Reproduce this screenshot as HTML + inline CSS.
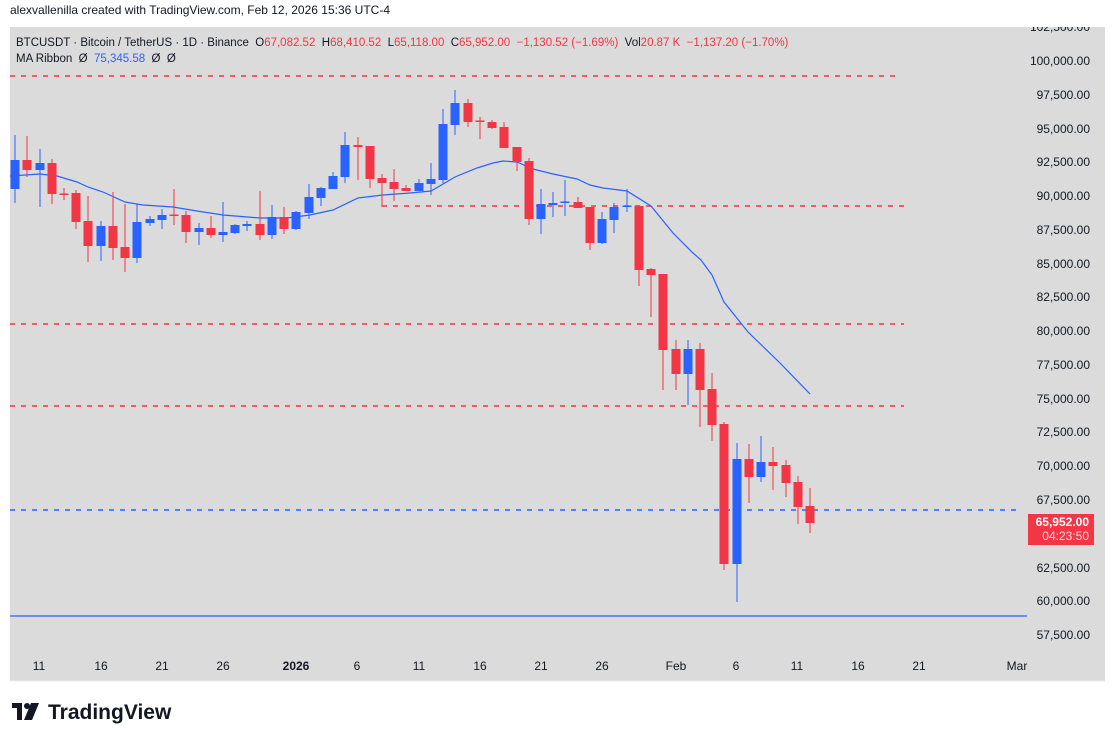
<!DOCTYPE html>
<html><head><meta charset="utf-8"><style>
html,body{margin:0;padding:0;background:#fff;}
body{width:1115px;height:741px;overflow:hidden;font-family:"Liberation Sans",sans-serif;}
</style></head><body>
<svg width="1115" height="741" xmlns="http://www.w3.org/2000/svg" font-family="Liberation Sans, sans-serif">
<defs><clipPath id="pc"><rect x="10" y="27" width="1095" height="654"/></clipPath></defs>
<rect x="0" y="0" width="1115" height="741" fill="#fff"/>
<text x="10" y="14" font-size="12" fill="#131722">alexvallenilla created with TradingView.com, Feb 12, 2026 15:36 UTC-4</text>
<rect x="10" y="27" width="1095" height="654" fill="#dbdbdb"/>
<line x1="10" y1="681" x2="1105" y2="681" stroke="#ececec"/>
<text x="16" y="46" font-size="11.5" fill="#131722" xml:space="preserve">BTCUSDT · Bitcoin / TetherUS · 1D · Binance  O<tspan fill="#f23645">67,082.52</tspan>  H<tspan fill="#f23645">68,410.52</tspan>  L<tspan fill="#f23645">65,118.00</tspan>  C<tspan fill="#f23645">65,952.00</tspan>  <tspan fill="#f23645">−1,130.52 (−1.69%)</tspan>  Vol<tspan fill="#f23645">20.87 K</tspan>  <tspan fill="#f23645">−1,137.20 (−1.70%)</tspan></text>
<text x="16" y="62" font-size="11.5" fill="#131722" xml:space="preserve">MA Ribbon  Ø  <tspan fill="#2962ff">75,345.58</tspan>  Ø  Ø</text>
<g stroke-width="1.4" stroke-dasharray="5,6">
<line x1="10" y1="76" x2="896" y2="76" stroke="#f23645"/>
<line x1="382" y1="206" x2="904" y2="206" stroke="#f23645"/>
<line x1="10" y1="324" x2="904" y2="324" stroke="#f23645"/>
<line x1="10" y1="406" x2="904" y2="406" stroke="#f23645"/>
<line x1="10" y1="510" x2="1020" y2="510" stroke="#2962ff"/>
</g>
<line x1="10" y1="616" x2="1027" y2="616" stroke="#2962ff" stroke-width="1.2"/>
<polyline fill="none" stroke="#2962ff" stroke-width="1.2" points="10,176 40,174 57,176 77,182 88,187 103,192 125,202 143,205 173,207 197,211 223,215 260,218 287,218 310,215 333,210 358,198 383,195 410,193 431,191 455,177 477,168 493,163 503,161 517,162 533,169 553,174 577,179 590,185 603,188 627,191 651,206 673,233 693,253 701,260 712,275 724,302 748,332 780,363 810,394"/>
<g>
<line x1="15" y1="135" x2="15" y2="203" stroke="#2962ff"/><rect x="10.5" y="160" width="9" height="29" fill="#2962ff"/>
<line x1="27" y1="136" x2="27" y2="177" stroke="#f23645"/><rect x="22.5" y="160" width="9" height="10" fill="#f23645"/>
<line x1="40" y1="149" x2="40" y2="207" stroke="#2962ff"/><rect x="35.5" y="163" width="9" height="7" fill="#2962ff"/>
<line x1="52" y1="159" x2="52" y2="204" stroke="#f23645"/><rect x="47.5" y="163" width="9" height="31" fill="#f23645"/>
<line x1="64" y1="188" x2="64" y2="200" stroke="#f23645"/><rect x="59.5" y="193.5" width="9" height="1.5" fill="#f23645"/>
<line x1="76" y1="190" x2="76" y2="229" stroke="#f23645"/><rect x="71.5" y="193" width="9" height="29" fill="#f23645"/>
<line x1="88" y1="196" x2="88" y2="262" stroke="#f23645"/><rect x="83.5" y="221" width="9" height="25" fill="#f23645"/>
<line x1="101" y1="221" x2="101" y2="261" stroke="#2962ff"/><rect x="96.5" y="226" width="9" height="20" fill="#2962ff"/>
<line x1="113" y1="192" x2="113" y2="260" stroke="#f23645"/><rect x="108.5" y="226" width="9" height="22" fill="#f23645"/>
<line x1="125" y1="204" x2="125" y2="272" stroke="#f23645"/><rect x="120.5" y="247" width="9" height="11" fill="#f23645"/>
<line x1="137" y1="204" x2="137" y2="263" stroke="#2962ff"/><rect x="132.5" y="222" width="9" height="36" fill="#2962ff"/>
<line x1="150" y1="216" x2="150" y2="226" stroke="#2962ff"/><rect x="145.5" y="219" width="9" height="4" fill="#2962ff"/>
<line x1="162" y1="209" x2="162" y2="229" stroke="#2962ff"/><rect x="157.5" y="215" width="9" height="5" fill="#2962ff"/>
<line x1="174" y1="189" x2="174" y2="225" stroke="#f23645"/><rect x="169.5" y="214.5" width="9" height="1.5" fill="#f23645"/>
<line x1="186" y1="211" x2="186" y2="243" stroke="#f23645"/><rect x="181.5" y="215" width="9" height="17" fill="#f23645"/>
<line x1="199" y1="223" x2="199" y2="245" stroke="#2962ff"/><rect x="194.5" y="228" width="9" height="4" fill="#2962ff"/>
<line x1="211" y1="216" x2="211" y2="238" stroke="#f23645"/><rect x="206.5" y="228" width="9" height="7" fill="#f23645"/>
<line x1="223" y1="202" x2="223" y2="242" stroke="#2962ff"/><rect x="218.5" y="232" width="9" height="3" fill="#2962ff"/>
<line x1="235" y1="224" x2="235" y2="234" stroke="#2962ff"/><rect x="230.5" y="225" width="9" height="8" fill="#2962ff"/>
<line x1="247" y1="221" x2="247" y2="231" stroke="#2962ff"/><rect x="242.5" y="224" width="9" height="2" fill="#2962ff"/>
<line x1="260" y1="191" x2="260" y2="240" stroke="#f23645"/><rect x="255.5" y="224" width="9" height="11" fill="#f23645"/>
<line x1="272" y1="205" x2="272" y2="239" stroke="#2962ff"/><rect x="267.5" y="217" width="9" height="18" fill="#2962ff"/>
<line x1="284" y1="207" x2="284" y2="234" stroke="#f23645"/><rect x="279.5" y="217" width="9" height="12" fill="#f23645"/>
<line x1="296" y1="211" x2="296" y2="230" stroke="#2962ff"/><rect x="291.5" y="212" width="9" height="17" fill="#2962ff"/>
<line x1="309" y1="184" x2="309" y2="219" stroke="#2962ff"/><rect x="304.5" y="197" width="9" height="16" fill="#2962ff"/>
<line x1="321" y1="187" x2="321" y2="206" stroke="#2962ff"/><rect x="316.5" y="188" width="9" height="10" fill="#2962ff"/>
<line x1="333" y1="172" x2="333" y2="189" stroke="#2962ff"/><rect x="328.5" y="176" width="9" height="13" fill="#2962ff"/>
<line x1="345" y1="132" x2="345" y2="183" stroke="#2962ff"/><rect x="340.5" y="145" width="9" height="32" fill="#2962ff"/>
<line x1="358" y1="137" x2="358" y2="180" stroke="#f23645"/><rect x="353.5" y="145" width="9" height="2" fill="#f23645"/>
<line x1="370" y1="146" x2="370" y2="188" stroke="#f23645"/><rect x="365.5" y="146" width="9" height="33" fill="#f23645"/>
<line x1="382" y1="174" x2="382" y2="207" stroke="#f23645"/><rect x="377.5" y="178" width="9" height="5" fill="#f23645"/>
<line x1="394" y1="169" x2="394" y2="201" stroke="#f23645"/><rect x="389.5" y="182" width="9" height="7" fill="#f23645"/>
<line x1="406" y1="185" x2="406" y2="191" stroke="#f23645"/><rect x="401.5" y="188" width="9" height="3" fill="#f23645"/>
<line x1="419" y1="179" x2="419" y2="191" stroke="#2962ff"/><rect x="414.5" y="183" width="9" height="8" fill="#2962ff"/>
<line x1="431" y1="163" x2="431" y2="195" stroke="#2962ff"/><rect x="426.5" y="179" width="9" height="5" fill="#2962ff"/>
<line x1="443" y1="109" x2="443" y2="183" stroke="#2962ff"/><rect x="438.5" y="124" width="9" height="56" fill="#2962ff"/>
<line x1="455" y1="90" x2="455" y2="135" stroke="#2962ff"/><rect x="450.5" y="103" width="9" height="22" fill="#2962ff"/>
<line x1="468" y1="99" x2="468" y2="127" stroke="#f23645"/><rect x="463.5" y="103" width="9" height="19" fill="#f23645"/>
<line x1="480" y1="117" x2="480" y2="139" stroke="#f23645"/><rect x="475.5" y="120.5" width="9" height="1.5" fill="#f23645"/>
<line x1="492" y1="120" x2="492" y2="129" stroke="#f23645"/><rect x="487.5" y="122" width="9" height="6" fill="#f23645"/>
<line x1="504" y1="122" x2="504" y2="148" stroke="#f23645"/><rect x="499.5" y="127" width="9" height="21" fill="#f23645"/>
<line x1="517" y1="147" x2="517" y2="171" stroke="#f23645"/><rect x="512.5" y="147" width="9" height="15" fill="#f23645"/>
<line x1="529" y1="158" x2="529" y2="225" stroke="#f23645"/><rect x="524.5" y="161" width="9" height="58" fill="#f23645"/>
<line x1="541" y1="189" x2="541" y2="234" stroke="#2962ff"/><rect x="536.5" y="204" width="9" height="15" fill="#2962ff"/>
<line x1="553" y1="192" x2="553" y2="217" stroke="#2962ff"/><rect x="548.5" y="203" width="9" height="2" fill="#2962ff"/>
<line x1="565" y1="180" x2="565" y2="216" stroke="#2962ff"/><rect x="560.5" y="201.5" width="9" height="1.5" fill="#2962ff"/>
<line x1="578" y1="197" x2="578" y2="208" stroke="#f23645"/><rect x="573.5" y="202" width="9" height="6" fill="#f23645"/>
<line x1="590" y1="207" x2="590" y2="250" stroke="#f23645"/><rect x="585.5" y="207" width="9" height="36" fill="#f23645"/>
<line x1="602" y1="212" x2="602" y2="244" stroke="#2962ff"/><rect x="597.5" y="219" width="9" height="24" fill="#2962ff"/>
<line x1="614" y1="203" x2="614" y2="233" stroke="#2962ff"/><rect x="609.5" y="207" width="9" height="13" fill="#2962ff"/>
<line x1="627" y1="189" x2="627" y2="212" stroke="#2962ff"/><rect x="622.5" y="205.5" width="9" height="1.5" fill="#2962ff"/>
<line x1="639" y1="206" x2="639" y2="286" stroke="#f23645"/><rect x="634.5" y="206" width="9" height="64" fill="#f23645"/>
<line x1="651" y1="268" x2="651" y2="317" stroke="#f23645"/><rect x="646.5" y="269" width="9" height="6" fill="#f23645"/>
<line x1="663" y1="274" x2="663" y2="390" stroke="#f23645"/><rect x="658.5" y="274" width="9" height="76" fill="#f23645"/>
<line x1="676" y1="340" x2="676" y2="390" stroke="#f23645"/><rect x="671.5" y="349" width="9" height="25" fill="#f23645"/>
<line x1="688" y1="340" x2="688" y2="405" stroke="#2962ff"/><rect x="683.5" y="349" width="9" height="25" fill="#2962ff"/>
<line x1="700" y1="343" x2="700" y2="427" stroke="#f23645"/><rect x="695.5" y="349" width="9" height="41" fill="#f23645"/>
<line x1="712" y1="373" x2="712" y2="441" stroke="#f23645"/><rect x="707.5" y="389" width="9" height="36" fill="#f23645"/>
<line x1="724" y1="422" x2="724" y2="570" stroke="#f23645"/><rect x="719.5" y="424" width="9" height="140" fill="#f23645"/>
<line x1="737" y1="443" x2="737" y2="602" stroke="#2962ff"/><rect x="732.5" y="459" width="9" height="105" fill="#2962ff"/>
<line x1="749" y1="444" x2="749" y2="503" stroke="#f23645"/><rect x="744.5" y="459" width="9" height="18" fill="#f23645"/>
<line x1="761" y1="436" x2="761" y2="482" stroke="#2962ff"/><rect x="756.5" y="462" width="9" height="15" fill="#2962ff"/>
<line x1="773" y1="447" x2="773" y2="490" stroke="#f23645"/><rect x="768.5" y="462" width="9" height="4" fill="#f23645"/>
<line x1="786" y1="460" x2="786" y2="497" stroke="#f23645"/><rect x="781.5" y="465" width="9" height="18" fill="#f23645"/>
<line x1="798" y1="476" x2="798" y2="524" stroke="#f23645"/><rect x="793.5" y="482" width="9" height="25" fill="#f23645"/>
<line x1="810" y1="488" x2="810" y2="533" stroke="#f23645"/><rect x="805.5" y="506" width="9" height="17" fill="#f23645"/>
</g>
<g font-size="12" fill="#131722" text-anchor="end" clip-path="url(#pc)">
<text x="1090" y="31">102,500.00</text>
<text x="1090" y="65">100,000.00</text>
<text x="1090" y="99">97,500.00</text>
<text x="1090" y="133">95,000.00</text>
<text x="1090" y="166">92,500.00</text>
<text x="1090" y="200">90,000.00</text>
<text x="1090" y="234">87,500.00</text>
<text x="1090" y="268">85,000.00</text>
<text x="1090" y="301">82,500.00</text>
<text x="1090" y="335">80,000.00</text>
<text x="1090" y="369">77,500.00</text>
<text x="1090" y="403">75,000.00</text>
<text x="1090" y="436">72,500.00</text>
<text x="1090" y="470">70,000.00</text>
<text x="1090" y="504">67,500.00</text>
<text x="1090" y="572">62,500.00</text>
<text x="1090" y="605">60,000.00</text>
<text x="1090" y="639">57,500.00</text>
</g>
<rect x="1028" y="514" width="66" height="31" fill="#f23645"/>
<text x="1089" y="526" font-size="12" font-weight="bold" fill="#fff" text-anchor="end">65,952.00</text>
<text x="1089" y="540" font-size="12" fill="#ffd6da" text-anchor="end">04:23:50</text>
<g font-size="12" fill="#131722" text-anchor="middle">
<text x="39" y="670">11</text><text x="101" y="670">16</text><text x="162" y="670">21</text><text x="223" y="670">26</text>
<text x="296" y="670" font-weight="bold">2026</text><text x="357" y="670">6</text><text x="419" y="670">11</text><text x="480" y="670">16</text>
<text x="541" y="670">21</text><text x="602" y="670">26</text><text x="676" y="670">Feb</text><text x="736" y="670">6</text>
<text x="797" y="670">11</text><text x="858" y="670">16</text><text x="919" y="670">21</text><text x="1017" y="670">Mar</text>
</g>
<g fill="#131722">
<rect x="12" y="703" width="10" height="5"/><rect x="17" y="703" width="5" height="17"/>
<circle cx="27" cy="706" r="3"/>
<polygon points="31,703 39,703 32,720 24,720"/>
</g>
<text x="48" y="719" font-size="21" font-weight="bold" fill="#131722">TradingView</text>
</svg>
</body></html>
